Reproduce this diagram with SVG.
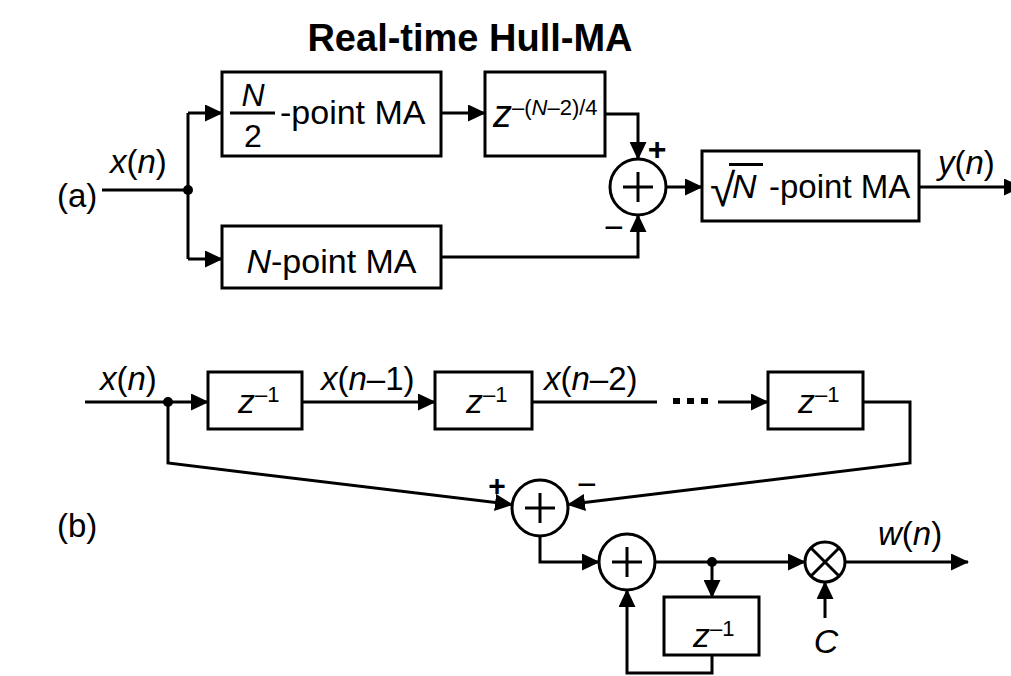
<svg xmlns="http://www.w3.org/2000/svg" width="1011" height="676" viewBox="0 0 1011 676">
<defs>
<marker id="ah" markerUnits="userSpaceOnUse" markerWidth="18" markerHeight="17" refX="17" refY="8.5" orient="auto" viewBox="0 0 18 17"><path d="M0,0 L18,8.5 L0,17 z" fill="#000"/></marker>
<style>
.t{font-family:"Liberation Sans",Arial,Helvetica,sans-serif;font-size:34px;fill:#000}
.l{font-size:33px}
.i{font-style:italic}
.sup{font-size:22px}
.box{fill:#fff;stroke:#000;stroke-width:3}
.ln{fill:none;stroke:#000;stroke-width:3}
.ar{fill:none;stroke:#000;stroke-width:3;marker-end:url(#ah)}
.sg{font-family:"Liberation Sans",Arial,sans-serif;fill:#000}
</style>
</defs>
<rect width="1011" height="676" fill="#fff"/>
<text class="t" x="470" y="51" text-anchor="middle" style="font-weight:bold;font-size:38px">Real-time Hull-MA</text>
<text class="t l" x="57" y="207">(a)</text>
<text class="t l" x="57" y="537">(b)</text>

<g id="connectors">
<!-- (a) -->
<line class="ln" x1="102" y1="190" x2="188" y2="190"/>
<line class="ln" x1="188" y1="113" x2="188" y2="259"/>
<path class="ar" d="M188,113 H222"/>
<path class="ar" d="M188,259 H222"/>
<path class="ar" d="M441,113 H485"/>
<path class="ar" d="M605,114 H638 V159"/>
<path class="ar" d="M441,257 H638 V215"/>
<path class="ar" d="M666,187 H702"/>
<path class="ar" d="M919,187 H1021"/>
<circle cx="188" cy="190" r="5" fill="#000"/>
<!-- (b) -->
<line class="ln" x1="85" y1="402" x2="168" y2="402"/>
<path class="ar" d="M168,402 H208"/>
<path class="ar" d="M302,402 H435"/>
<line class="ln" x1="532" y1="402" x2="657" y2="402"/>
<path class="ar" d="M718,402 H768"/>
<path class="ar" d="M168,402 V463 L512,504.6"/>
<path class="ar" d="M863,402 H910 V463 L568,504.6"/>
<path class="ar" d="M540,536 V562 H599"/>
<path class="ar" d="M655,562 H805"/>
<path class="ar" d="M712,562 V597"/>
<path class="ar" d="M712,655 V673 H627 V590"/>
<path class="ar" d="M825,618 V582"/>
<path class="ar" d="M845,562 H968"/>
<circle cx="168" cy="402" r="5" fill="#000"/>
<circle cx="712" cy="562" r="5" fill="#000"/>
<rect x="673" y="398" width="7" height="6" fill="#000"/>
<rect x="687" y="398" width="7" height="6" fill="#000"/>
<rect x="701" y="398" width="7" height="6" fill="#000"/>
</g>

<g id="lbl-a">
<text class="t l" x="110" y="173"><tspan class="i">x</tspan>(<tspan class="i">n</tspan>)</text>
<text class="t l" x="938" y="174"><tspan class="i">y</tspan>(<tspan class="i">n</tspan>)</text>
<text class="sg" x="657" y="160" text-anchor="middle" style="font-size:32px;font-weight:bold">+</text>
<text class="sg" x="614" y="239" text-anchor="middle" style="font-size:34px">−</text>
</g>

<g id="half-ma">
<rect class="box" x="222" y="72" width="219" height="84"/>
<text class="t i" x="253" y="106" text-anchor="middle" style="font-size:32px">N</text>
<line class="ln" x1="230" y1="113" x2="275" y2="113"/>
<text class="t" x="253" y="147" text-anchor="middle" style="font-size:32px">2</text>
<text class="t" x="280" y="124">-point MA</text>
</g>

<g id="delay-a">
<rect class="box" x="485" y="72" width="120" height="84"/>
<text class="t" x="493" y="127"><tspan class="i" style="font-size:38px">z</tspan><tspan dx="0" dy="-12" style="font-size:22px">–(<tspan class="i">N</tspan>–2)/4</tspan></text>
</g>

<g id="n-ma">
<rect class="box" x="222" y="226" width="219" height="62"/>
<text class="t" x="331.5" y="273" text-anchor="middle"><tspan class="i">N</tspan>-point MA</text>
</g>

<g id="sum-a">
<circle class="box" cx="638" cy="187" r="28"/>
<line class="ln" x1="623" y1="187" x2="653" y2="187"/>
<line class="ln" x1="638" y1="172" x2="638" y2="202"/>
</g>

<g id="sqrt-ma">
<rect class="box" x="702" y="151" width="217" height="70"/>
<text class="t" x="710" y="206" style="font-size:46px">√</text>
<line class="ln" x1="729" y1="164.5" x2="763" y2="164.5"/>
<text class="t i" x="732" y="198">N</text>
<text class="t" x="769" y="198" style="font-size:33px">-point MA</text>
</g>

<g id="lbl-b">
<text class="t l" x="100" y="390"><tspan class="i">x</tspan>(<tspan class="i">n</tspan>)</text>
<text class="t l" x="321" y="390"><tspan class="i">x</tspan>(<tspan class="i">n</tspan>–1)</text>
<text class="t l" x="544" y="390"><tspan class="i">x</tspan>(<tspan class="i">n</tspan>–2)</text>
<text class="t l" x="878" y="545"><tspan class="i">w</tspan>(<tspan class="i">n</tspan>)</text>
<text class="sg" x="497" y="496" text-anchor="middle" style="font-size:30px;font-weight:bold">+</text>
<text class="sg" x="587" y="496" text-anchor="middle" style="font-size:34px">−</text>
<text class="t i" x="826" y="653" text-anchor="middle">C</text>
</g>

<g id="d1">
<rect class="box" x="208" y="372" width="94" height="57"/>
<text class="t" x="238" y="413"><tspan class="i">z</tspan><tspan dx="0" dy="-11" class="sup">–1</tspan></text>
</g>
<g id="d2">
<rect class="box" x="435" y="372" width="97" height="57"/>
<text class="t" x="466" y="413"><tspan class="i">z</tspan><tspan dx="0" dy="-11" class="sup">–1</tspan></text>
</g>
<g id="d3">
<rect class="box" x="768" y="372" width="95" height="57"/>
<text class="t" x="798" y="413"><tspan class="i">z</tspan><tspan dx="0" dy="-11" class="sup">–1</tspan></text>
</g>

<g id="sum-b1">
<circle class="box" cx="540" cy="508" r="28"/>
<line class="ln" x1="525" y1="508" x2="555" y2="508"/>
<line class="ln" x1="540" y1="493" x2="540" y2="523"/>
</g>
<g id="sum-b2">
<circle class="box" cx="627" cy="562" r="28"/>
<line class="ln" x1="612" y1="562" x2="642" y2="562"/>
<line class="ln" x1="627" y1="547" x2="627" y2="577"/>
</g>
<g id="d4">
<rect class="box" x="664" y="597" width="95" height="58"/>
<text class="t" x="693" y="647"><tspan class="i">z</tspan><tspan dx="0" dy="-11" class="sup">–1</tspan></text>
</g>
<g id="mult">
<circle class="box" cx="825" cy="562" r="20"/>
<line class="ln" x1="811" y1="548" x2="839" y2="576"/>
<line class="ln" x1="839" y1="548" x2="811" y2="576"/>
</g>
</svg>
